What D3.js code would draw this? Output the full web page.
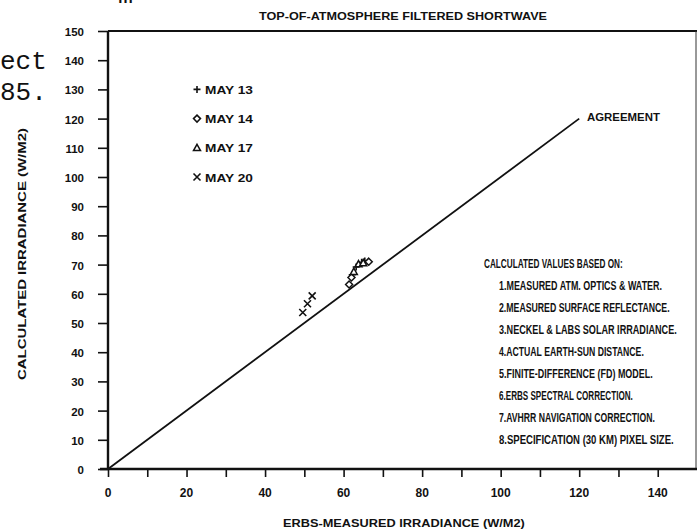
<!DOCTYPE html>
<html><head><meta charset="utf-8">
<script src="https://cdn.jsdelivr.net/npm/d3@7"></script>
<style>
html,body{margin:0;padding:0;background:#fff;}
svg{display:block;}
text{font-family:"Liberation Sans",Arial,sans-serif;font-weight:bold;fill:#111;}
</style>
</head><body>
<svg id="chart" width="698" height="532"></svg>
<script>
// ---- data ----
const title = "TOP-OF-ATMOSPHERE FILTERED SHORTWAVE";
const xTitle = "ERBS-MEASURED IRRADIANCE (W/M2)";
const yTitle = "CALCULATED IRRADIANCE (W/M2)";
const xTickLabels = [0, 20, 40, 60, 80, 100, 120, 140];
const yTickLabels = [0, 10, 20, 30, 40, 50, 60, 70, 80, 90, 100, 110, 120, 130, 140, 150];
const minorTicks = [0, 10, 20, 30, 40, 50, 60, 70, 80, 90, 100, 110, 120, 130, 140];
const seriesNames = ["MAY 13", "MAY 14", "MAY 17", "MAY 20"];
const seriesSymbols = ["plus", "diamond", "triangle", "cross"];
const legendLevels = [130, 120, 110, 100];
const may13 = [[62.2, 66.5], [63.2, 69.2], [64.6, 70.8], [65.4, 71.2]];
const may14 = [[61.4, 63.2], [62.0, 65.6], [66.4, 71.0]];
const may17 = [[62.6, 67.6], [63.8, 70.2], [65.0, 70.6]];
const may20 = [[49.6, 53.6], [50.8, 56.6], [52.0, 59.3]];
const agreementLine = [[0, 0], [120, 120]];
const agreementLabel = "AGREEMENT";
const notes = [
  "CALCULATED VALUES BASED ON:",
  "1.MEASURED ATM. OPTICS & WATER.",
  "2.MEASURED SURFACE REFLECTANCE.",
  "3.NECKEL & LABS SOLAR IRRADIANCE.",
  "4.ACTUAL EARTH-SUN DISTANCE.",
  "5.FINITE-DIFFERENCE (FD) MODEL.",
  "6.ERBS SPECTRAL CORRECTION.",
  "7.AVHRR NAVIGATION CORRECTION.",
  "8.SPECIFICATION (30 KM) PIXEL SIZE."
];
const noteWidths = [139, 163, 171, 178, 145, 154, 134, 156, 175];
const pageFragments = ["ect", "85."];

// ---- layout ----
const svg = d3.select("#chart");
svg.append("rect").attr("width", 698).attr("height", 532).attr("fill", "#fff");
const x = d3.scaleLinear().domain([0, 150]).range([108, 697]);
const y = d3.scaleLinear().domain([0, 150]).range([469, 31]);

// place a text at (tx,ty) squeezed horizontally to a target width
function fitText(parent, str, tx, ty, size, width, rot) {
  const t = parent.append("text").style("font-size", size + "px").text(str);
  const w = t.node().getComputedTextLength();
  const k = width / w;
  t.attr("transform", `translate(${tx},${ty})${rot ? " rotate(" + rot + ")" : ""} scale(${k},1)`);
  return t;
}

// stray page text (scanned page)
svg.append("text").attr("x", 118).attr("y", 3).style("font-family", "'Liberation Mono',monospace")
  .style("font-weight", "normal").style("font-size", "25px").text("m");
svg.selectAll("text.frag").data(pageFragments).enter().append("text").attr("class", "frag")
  .attr("x", 0).attr("y", (d, i) => 69 + i * 31)
  .style("font-family", "'Liberation Mono','DejaVu Sans Mono',monospace")
  .style("font-weight", "normal").style("font-size", "26px").text(d => d);

// frame
svg.append("line").attr("x1", x(0)).attr("x2", x(150)).attr("y1", y(150)).attr("y2", y(150))
  .attr("stroke", "#111").attr("stroke-width", 2);
svg.append("line").attr("x1", x(150) - 1).attr("x2", x(150) - 1).attr("y1", y(150)).attr("y2", y(0))
  .attr("stroke", "#333").attr("stroke-width", 1);

// x axis
const xAxis = d3.axisBottom(x).tickValues(minorTicks).tickSize(8).tickFormat("");
const gx = svg.append("g").attr("transform", `translate(0,${y(0)})`).call(xAxis);
gx.select(".domain").remove();
gx.selectAll(".tick line").attr("stroke", "#111").attr("stroke-width", 1.6);
svg.append("line").attr("x1", 100).attr("x2", x(150)).attr("y1", y(0)).attr("y2", y(0))
  .attr("stroke", "#111").attr("stroke-width", 2.4);
svg.selectAll("text.xl").data(xTickLabels).enter().append("text").attr("class", "xl")
  .attr("x", d => x(d)).attr("y", 497).attr("text-anchor", "middle").style("font-size", "12px").text(d => d);

// y axis
const yAxis = d3.axisLeft(y).tickValues(yTickLabels).tickSize(10).tickFormat("");
const gy = svg.append("g").attr("transform", `translate(${x(0)},0)`).call(yAxis);
gy.select(".domain").remove();
gy.selectAll(".tick line").attr("stroke", "#111").attr("stroke-width", 1.6);
svg.append("line").attr("x1", x(0)).attr("x2", x(0)).attr("y1", y(150)).attr("y2", y(0) + 1)
  .attr("stroke", "#111").attr("stroke-width", 2.4);
svg.selectAll("text.yl").data(yTickLabels).enter().append("text").attr("class", "yl")
  .attr("x", 84).attr("y", d => y(d) + 5).attr("text-anchor", "end").style("font-size", "11.5px").text(d => d);

// titles
fitText(svg, title, 259, 19.5, 10.5, 288);
fitText(svg, xTitle, 283, 527, 11.5, 242);
fitText(svg, yTitle, 26, 380, 11.5, 252, -90);

// agreement line
svg.append("path").datum(agreementLine)
  .attr("d", d3.line().x(d => x(d[0])).y(d => y(d[1])))
  .attr("stroke", "#111").attr("stroke-width", 1.8).attr("fill", "none");
fitText(svg, agreementLabel, 587, 121, 11, 73);

// symbols
function drawSymbol(g, type, cx, cy, s) {
  if (type === "plus") {
    g.append("path").attr("d", `M${cx - s},${cy}H${cx + s}M${cx},${cy - s}V${cy + s}`)
      .attr("stroke", "#111").attr("stroke-width", 1.6).attr("fill", "none");
  } else if (type === "cross") {
    g.append("path").attr("d", `M${cx - s},${cy - s}L${cx + s},${cy + s}M${cx - s},${cy + s}L${cx + s},${cy - s}`)
      .attr("stroke", "#111").attr("stroke-width", 1.6).attr("fill", "none");
  } else if (type === "diamond") {
    g.append("path").attr("d", `M${cx},${cy - s}L${cx + s},${cy}L${cx},${cy + s}L${cx - s},${cy}Z`)
      .attr("stroke", "#111").attr("stroke-width", 1.5).attr("fill", "#fff");
  } else {
    g.append("path").attr("d", `M${cx},${cy - s}L${cx + s},${cy + s * 0.8}L${cx - s},${cy + s * 0.8}Z`)
      .attr("stroke", "#111").attr("stroke-width", 1.5).attr("fill", "#fff");
  }
}
const allSeries = [may13, may14, may17, may20];
const gp = svg.append("g");
allSeries.forEach((pts, i) => {
  pts.forEach(p => drawSymbol(gp, seriesSymbols[i], x(p[0]), y(p[1]), 3.5));
});

// legend
seriesNames.forEach((name, i) => {
  const ly = y(legendLevels[i]);
  drawSymbol(svg, seriesSymbols[i], 197, ly, 3.5);
  fitText(svg, name, 205, ly + 4.5, 11.5, 48);
});

// notes
notes.forEach((d, i) => {
  fitText(svg, d, i === 0 ? 484 : 499, 268 + i * 22, 12.5, noteWidths[i]);
});
</script>
</body></html>
